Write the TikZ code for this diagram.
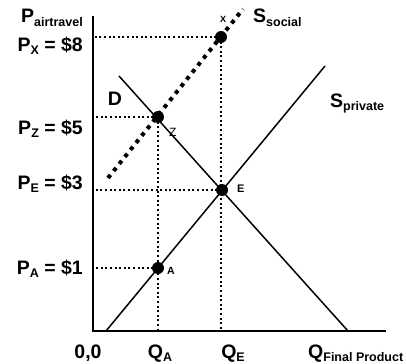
\documentclass[tikz,border=0pt]{standalone}
\usepackage{fontspec}
\setmainfont{Liberation Sans}
\usetikzlibrary{calc}
\newcommand{\subtxt}[1]{\raisebox{-0.3ex}{\fontsize{12.5}{13}\selectfont #1}}

\begin{document}
\begin{tikzpicture}[
  x=1pt, y=-1pt,
  font=\fontsize{19.5}{21}\selectfont\bfseries,
  axis/.style={line width=2pt},
  curve/.style={line width=1.5pt},
  guide/.style={line width=2pt, dash pattern=on 2pt off 2.6pt},
  social/.style={line width=4pt, dash pattern=on 4pt off 5pt},
  eqpoint/.style={circle, fill=black, inner sep=0pt, minimum size=12pt},
  ptlabel/.style={font=\fontsize{11}{12}\selectfont\bfseries, inner sep=0pt, anchor=base west},
  axlabel/.style={inner sep=0pt, anchor=base east}
]
\useasboundingbox (0,0) rectangle (407,364);
% axes
\coordinate (origin) at (93,331);
\coordinate (ytop) at (93,16);
\coordinate (xend) at (386,331);
\draw[axis] (ytop) -- (origin) -- (xend);
% curves
\coordinate (dtop) at (119,76);
\coordinate (dbot) at (348,331);
\coordinate (spbot) at (106,331);
\coordinate (sptop) at (325,66);
\coordinate (ssbot) at (108,178);
\coordinate (sstop) at (243,9);
\draw[curve] (dtop) -- (dbot);
\draw[curve] (spbot) -- (sptop);
\draw[social] (ssbot) -- (sstop);
% points
\node[eqpoint] (ptX) at (221,37) {};
\node[eqpoint] (ptZ) at (158,117) {};
\node[eqpoint] (ptE) at (222,190) {};
\node[eqpoint] (ptA) at (158,268) {};
\draw[guide] (ptX.center) -- (ptX.center -| origin);
\draw[guide] (ptZ.center) -- (ptZ.center -| origin);
\draw[guide] (ptE.center) -- (ptE.center -| origin);
\draw[guide] (ptA.center) -- (ptA.center -| origin);
\draw[guide] (ptX.center) -- (ptX.center |- origin);
\draw[guide] (ptZ.center) -- (ptZ.center |- origin);
% point labels
\node[ptlabel, font=\fontsize{9}{10}\selectfont\bfseries] (labX) at (220,23) {X};
\node[ptlabel, font=\fontsize{12}{13}\selectfont] (labZ) at (169,136) {Z};
\node[ptlabel] (labE) at (237,192) {E};
\node[ptlabel, font=\fontsize{10.5}{11}\selectfont\bfseries] (labA) at (167,274) {A};
% price labels
\node[axlabel] (pair) at (83,23) {P\subtxt{airtravel}};
\node[axlabel] (px) at (83,51) {P\subtxt{X} = \$8};
\node[axlabel] (pz) at (83,134) {P\subtxt{Z} = \$5};
\node[axlabel] (pe) at (83,189) {P\subtxt{E} = \$3};
\node[axlabel] (pa) at (83,274) {P\subtxt{A} = \$1};
% quantity labels
\node[inner sep=0pt, anchor=base] (zero) at (88,358) {0,0};
\node[inner sep=0pt, anchor=base] (qa) at (160,358) {Q\subtxt{A}};
\node[inner sep=0pt, anchor=base] (qe) at (233,358) {Q\subtxt{E}};
\node[inner sep=0pt, anchor=base west] (qfin) at (308,358) {Q\subtxt{Final Product}};
% curve labels
\node[inner sep=0pt, anchor=base] (dlab) at (115,105) {D};
\node[inner sep=0pt, anchor=base west] (sslab) at (253,23) {S\subtxt{social}};
\node[inner sep=0pt, anchor=base west] (splab) at (330,107) {S\subtxt{private}};
\end{tikzpicture}
\end{document}
